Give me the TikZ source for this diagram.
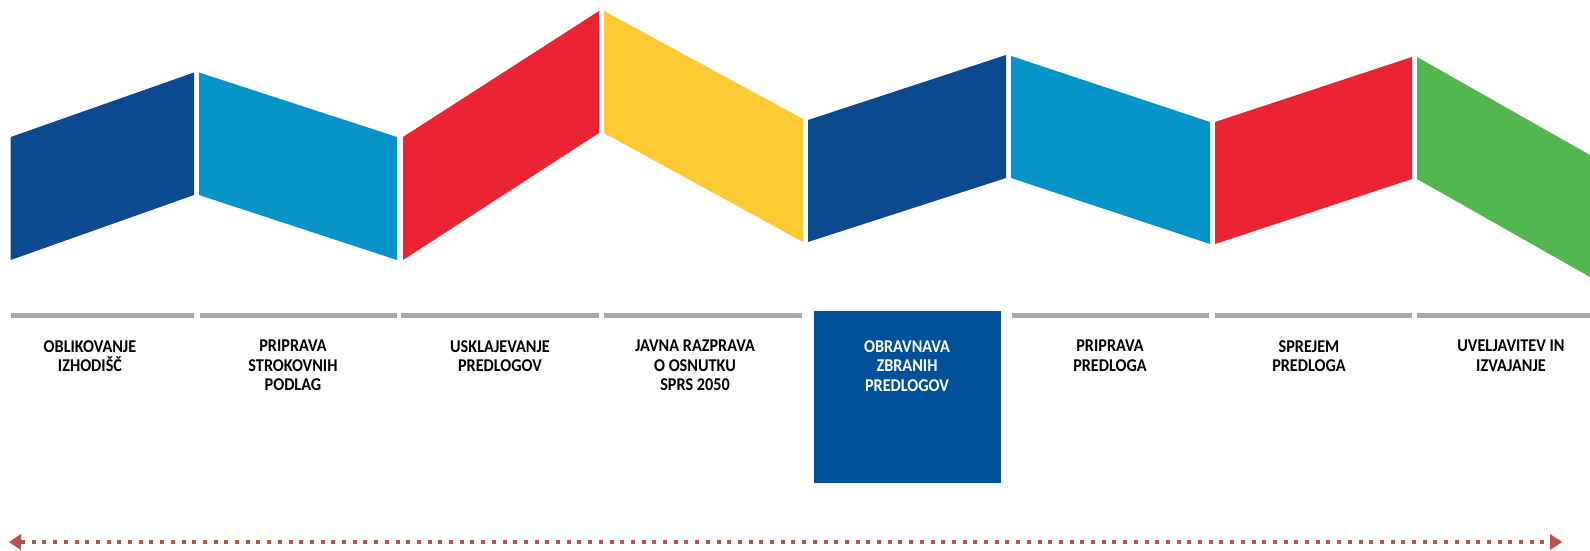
\documentclass[tikz,border=0pt]{standalone}
\usepackage{fontspec}
\setmainfont{Carlito}[FakeStretch=0.9]
\usetikzlibrary{arrows.meta}
\definecolor{dblue}{HTML}{0B4A8F}
\definecolor{lblue}{HTML}{0395C7}
\definecolor{pred}{HTML}{EC2330}
\definecolor{pyel}{HTML}{FECA33}
\definecolor{pgreen}{HTML}{53B74F}
\definecolor{barg}{HTML}{A5A8A7}
\definecolor{boxblue}{HTML}{00519A}
\definecolor{arrred}{HTML}{C0504D}
\begin{document}
\begin{tikzpicture}[x=1pt,y=-1pt,
  bar/.style={fill=barg,draw=none},
  lbl/.style={font=\bfseries\fontsize{18}{19.5}\selectfont,align=center,anchor=north,inner sep=0pt,text=black},
  lblw/.style={lbl,text=white},
  hibox/.style={fill=boxblue,draw=none,inner sep=0pt,minimum width=187pt,minimum height=172pt,anchor=north west},
  timeline/.style={draw=arrred,line width=4pt,dash pattern=on 4pt off 6.7pt,{Triangle[length=12pt,width=16pt,line width=0pt]}-{Triangle[length=12pt,width=16pt,line width=0pt]}}]
\useasboundingbox (0,0) rectangle (1590,551);
% ribbon panels
\fill[dblue] (10.7,137) -- (194,72.5) -- (194,195) -- (10.7,260) -- cycle;
\fill[lblue] (199,72.5) -- (397,137) -- (397,260) -- (199,195) -- cycle;
\fill[pred] (403,137) -- (599,11) -- (599,133) -- (403,260) -- cycle;
\fill[pyel] (604,11) -- (803,119) -- (803,242) -- (604,133) -- cycle;
\fill[dblue] (808,120) -- (1006,55) -- (1006,178) -- (808,242) -- cycle;
\fill[lblue] (1011,56) -- (1210,122) -- (1210,244) -- (1011,178) -- cycle;
\fill[pred] (1215,122) -- (1412,57) -- (1412,179) -- (1215,244) -- cycle;
\fill[pgreen] (1417,57) -- (1590,155) -- (1590,277) -- (1417,179) -- cycle;
% grey bars
\fill[bar] (11,313) rectangle (194,318);
\fill[bar] (200,313) rectangle (397,318);
\fill[bar] (401,313) rectangle (599,318);
\fill[bar] (604,313) rectangle (802,318);
\fill[bar] (1012,313) rectangle (1209,318);
\fill[bar] (1215,313) rectangle (1412,318);
\fill[bar] (1417,313) rectangle (1590,318);
% highlighted box
\node[hibox] (hb) at (814,311) {};
% labels
\node[lbl] (t1) at (90,340) {OBLIKOVANJE\\IZHODIŠČ};
\node[lbl] (t2) at (293,340) {PRIPRAVA\\STROKOVNIH\\PODLAG};
\node[lbl] (t3) at (500,340) {USKLAJEVANJE\\PREDLOGOV};
\node[lbl] (t4) at (695,340) {JAVNA RAZPRAVA\\O OSNUTKU\\SPRS 2050};
\node[lblw] (t5) at (907,340) {OBRAVNAVA\\ZBRANIH\\PREDLOGOV};
\node[lbl] (t6) at (1110,340) {PRIPRAVA\\PREDLOGA};
\node[lbl] (t7) at (1309,340) {SPREJEM\\PREDLOGA};
\node[lbl] (t8) at (1511,340) {UVELJAVITEV IN\\IZVAJANJE};
% timeline arrow
\coordinate (al) at (9,542);
\coordinate (ar) at (1562,542);
\draw[timeline] (al) -- (ar);
\end{tikzpicture}
\end{document}
